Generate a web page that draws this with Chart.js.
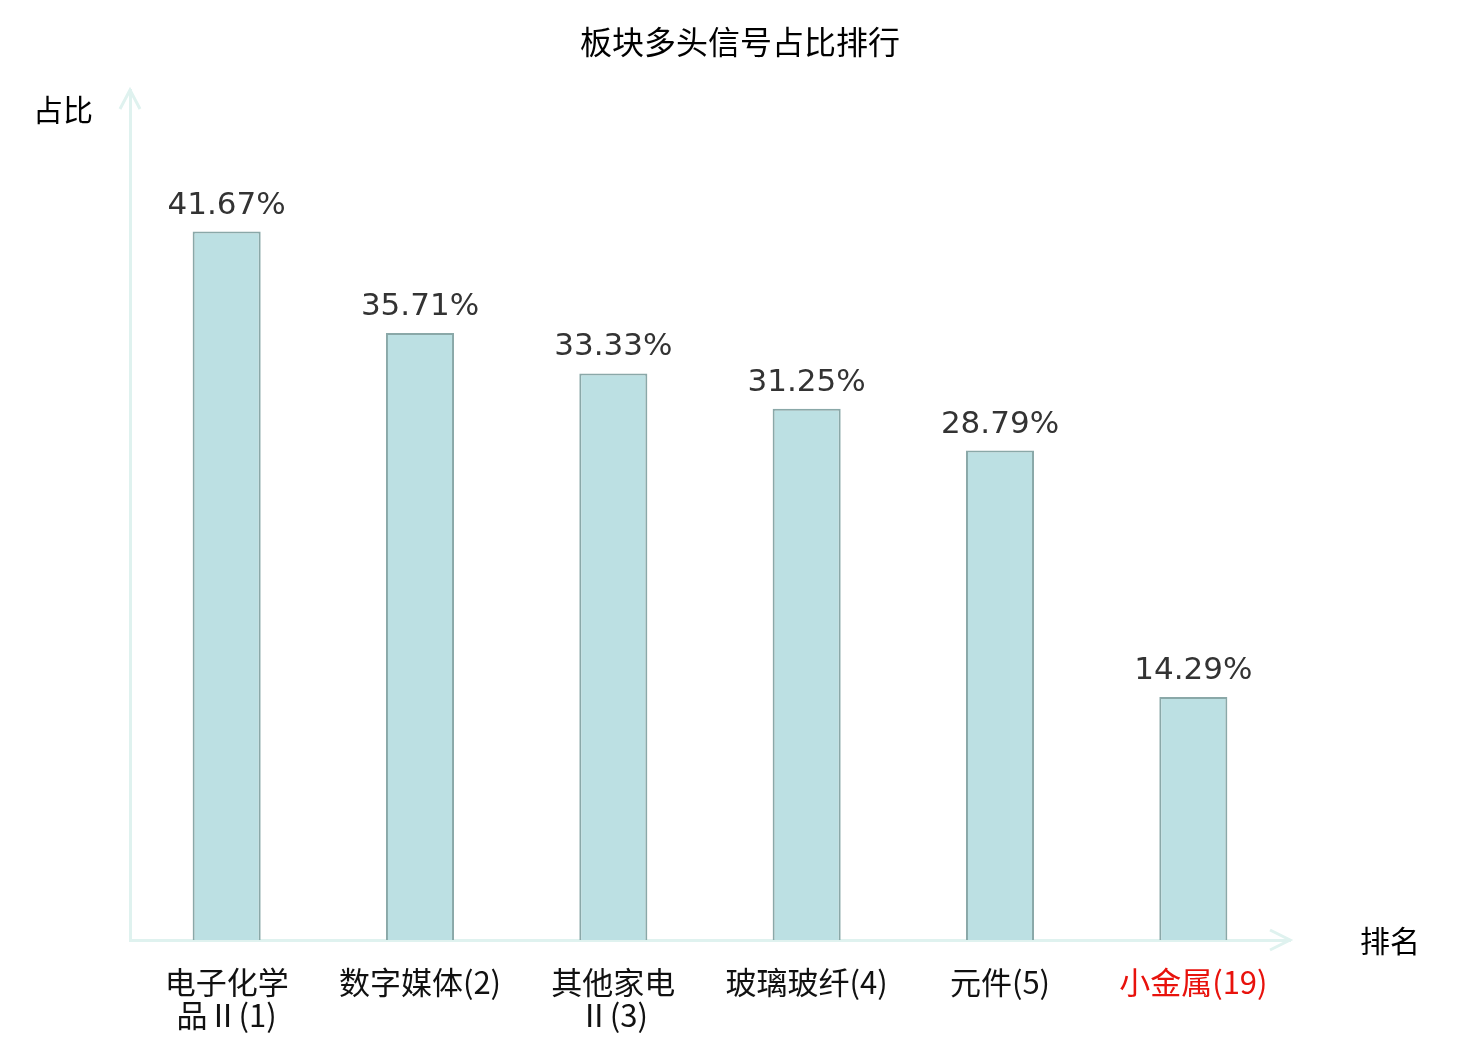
<!DOCTYPE html>
<html>
<head>
<meta charset="utf-8">
<script src="https://cdn.jsdelivr.net/npm/chart.js@4"></script>
<style>
	html, body { margin: 0; padding: 0; background: #fff; }
	#wrap { width: 1480px; height: 1040px; }
</style>
</head>
<body>
<div id="wrap"><canvas id="rankChart"></canvas></div>
<script>
const sectors = [['电子化学', '品Ⅱ(1)'], '数字媒体(2)', ['其他家电', 'Ⅱ(3)'], '玻璃玻纤(4)', '元件(5)', '小金属(19)'];
const ratios = [41.67, 35.71, 33.33, 31.25, 28.79, 14.29];
const yRange = [0, 50];

const axisColor = '#dff2ef';
const cjk = '"Noto Sans CJK SC", "DejaVu Sans", sans-serif';

// arrows, value labels, title and axis names
const decor = {
	id: 'decor',
	afterDraw(chart) {
		const c = chart.ctx;
		const a = chart.chartArea;
		c.save();
		c.strokeStyle = axisColor;
		c.lineWidth = 3;
		c.beginPath();
		c.moveTo(a.left - 10, a.top + 19);
		c.lineTo(a.left, a.top);
		c.lineTo(a.left + 10, a.top + 19);
		c.moveTo(a.right - 20, a.bottom - 10);
		c.lineTo(a.right, a.bottom);
		c.lineTo(a.right - 20, a.bottom + 10);
		c.stroke();

		c.fillStyle = '#333';
		c.font = '31px "DejaVu Sans", sans-serif';
		c.textAlign = 'center';
		c.textBaseline = 'alphabetic';
		chart.getDatasetMeta(0).data.forEach(function(bar, i) {
			c.fillText(ratios[i].toFixed(2) + '%', bar.x, bar.y - 18);
		});

		c.fillStyle = '#000';
		c.textBaseline = 'middle';
		c.font = '32px ' + cjk;
		c.fillText('板块多头信号占比排行', chart.width / 2, 42);
		c.font = '30px ' + cjk;
		c.fillText('占比', 63, 110);
		c.fillText('排名', 1390, 941);
		c.restore();
	}
};

new Chart(document.getElementById('rankChart'), {
	type: 'bar',
	data: {
		labels: sectors,
		datasets: [{
			data: ratios,
			backgroundColor: '#bce0e3',
			borderColor: '#8aa8a8',
			borderWidth: 2,
			categoryPercentage: 1,
			barPercentage: 0.352
		}]
	},
	options: {
		responsive: true,
		maintainAspectRatio: false,
		animation: false,
		layout: {
			padding: { left: 130, right: 190, top: 90, bottom: 0 }
		},
		plugins: {
			legend: { display: false },
			tooltip: { enabled: false }
		},
		scales: {
			x: {
				grid: { display: false },
				border: { color: axisColor, width: 3 },
				ticks: {
					padding: 18,
					font: { family: cjk, size: 31, lineHeight: 1.05 },
					color: function(ctx) {
						return ctx.index === sectors.length - 1 ? '#e8120c' : '#111';
					}
				},
				afterFit: function(scale) { scale.height = 100; }
			},
			y: {
				min: yRange[0],
				max: yRange[1],
				grid: { display: false },
				border: { color: axisColor, width: 3 },
				ticks: { display: false },
				afterFit: function(scale) { scale.width = 0; }
			}
		}
	},
	plugins: [decor]
});
</script>
</body>
</html>
